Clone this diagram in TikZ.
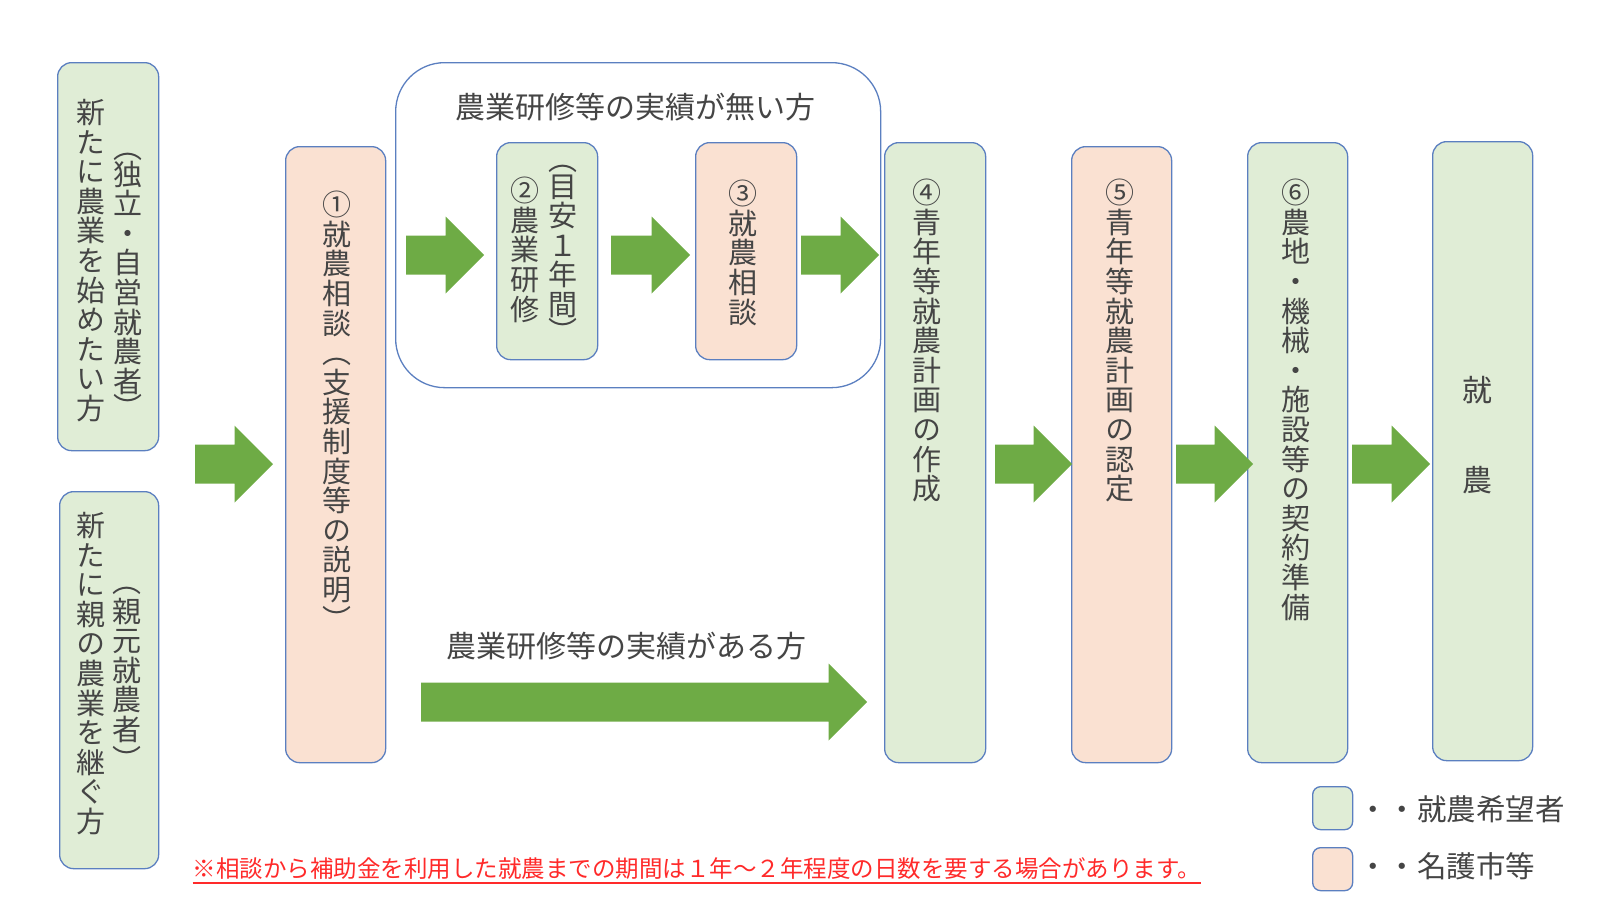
\documentclass[tikz,border=0pt]{standalone}
\usepackage{fontspec}
\setmainfont{Noto Sans CJK JP}
\newfontfamily\vjp{Noto Sans CJK JP}[RawFeature=+vert]
\lineskiplimit=-100pt
\lineskip=0pt
\definecolor{gfill}{HTML}{E0EDD6}
\definecolor{pfill}{HTML}{FAE1D2}
\definecolor{bcol}{HTML}{5B7FC0}
\definecolor{agreen}{HTML}{6EAB45}
\definecolor{tgray}{HTML}{454545}
\definecolor{fred}{HTML}{FF2A2A}
\newcommand\blockarr[3]{%
  \fill[agreen] (#1,#3-19.5) -- (#2-38.5,#3-19.5) -- (#2-38.5,#3-38.5) -- (#2,#3)
    -- (#2-38.5,#3+38.5) -- (#2-38.5,#3+19.5) -- (#1,#3+19.5) -- cycle;}
\tikzset{
  box/.style={draw=bcol, line width=1.3pt, rounded corners=14pt, anchor=north west, inner sep=0pt},
  gbox/.style={box, fill=gfill},
  pbox/.style={box, fill=pfill},
  vtext/.style={font=\vjp\fontsize{29}{29.6}\selectfont, text=tgray, align=center, inner sep=0pt, anchor=north},
  htext/.style={font=\fontsize{30}{36}\selectfont, text=tgray, inner sep=0pt},
  legtext/.style={font=\fontsize{29.5}{36}\selectfont, text=tgray, inner sep=0pt, anchor=west},
}
\begin{document}
\begin{tikzpicture}[x=1pt,y=-1pt]
\useasboundingbox (0,0) rectangle (1600,900);
% boxes
\node[gbox, minimum width=101pt, minimum height=388pt] (boxA) at (57,62) {};
\node[gbox, minimum width=99pt, minimum height=377pt] (boxB) at (59,491) {};
\node[pbox, minimum width=100pt, minimum height=616pt] (box1) at (285,146) {};
\node[box, rounded corners=49pt, minimum width=485pt, minimum height=325pt] (grp) at (395,62) {};
\node[gbox, minimum width=101pt, minimum height=217pt] (box2) at (496,142) {};
\node[pbox, minimum width=101pt, minimum height=217pt] (box3) at (695,142) {};
\node[gbox, minimum width=101pt, minimum height=620pt] (box4) at (884,142) {};
\node[pbox, minimum width=100pt, minimum height=616pt] (box5) at (1071,146) {};
\node[gbox, minimum width=100pt, minimum height=620pt] (box6) at (1247,142) {};
\node[gbox, minimum width=100pt, minimum height=619pt] (box7) at (1432,141) {};
% vertical texts
\node[vtext] (tA1) at (91,99) {新\\た\\に\\農\\業\\を\\始\\め\\た\\い\\方};
\node[vtext] (tA2) at (128,153) {（\\[-3pt]独\\立\\・\\自\\営\\就\\農\\者\\[-3pt]）};
\node[vtext] (tB1) at (91,512) {新\\た\\に\\親\\の\\農\\業\\を\\継\\ぐ\\方};
\node[vtext] (tB2) at (127,587) {（\\親\\元\\就\\農\\者\\）};
\node[vtext] (t1) at (337,191) {①\\就\\農\\相\\談\\（\\支\\援\\制\\度\\等\\の\\説\\明\\）};
\node[vtext] (t2a) at (525,177) {②\\農\\業\\研\\修};
\node[vtext] (t2b) at (563,165) {（\\[-3pt]目\\安\\１\\年\\間\\[-3pt]）};
\node[vtext] (t3) at (743,180) {③\\就\\農\\相\\談};
\node[vtext] (t4) at (927,179) {④\\青\\年\\等\\就\\農\\計\\画\\の\\作\\成};
\node[vtext] (t5) at (1120,179) {⑤\\青\\年\\等\\就\\農\\計\\画\\の\\認\\定};
\node[vtext] (t6) at (1296,179) {⑥\\農\\地\\・\\機\\械\\・\\施\\設\\等\\の\\契\\約\\準\\備};
\node[htext] (t7a) at (1477,390) {就};
\node[htext] (t7b) at (1477,480) {農};
% titles
\node[htext] (title1) at (635,107) {農業研修等の実績が無い方};
\node[htext] (title2) at (626,646) {農業研修等の実績がある方};
% arrows
\blockarr{195}{273}{464}
\blockarr{406}{484}{255}
\blockarr{611}{690}{255}
\blockarr{801}{879}{255}
\blockarr{995}{1072}{464}
\blockarr{1176}{1253}{464}
\blockarr{1352}{1430}{464}
\blockarr{421}{867}{702}
% footnote
\node[font=\fontsize{23.5}{28}\selectfont, text=fred, inner sep=0pt] (foot) at (697,869)
  {※相談から補助金を利用した就農までの期間は１年～２年程度の日数を要する場合があります。};
\draw[fred, line width=1.3pt] ([yshift=-5pt]foot.base west) -- ([yshift=-5pt]foot.base east);
% legend
\node[gbox, rounded corners=8pt, minimum width=40pt, minimum height=43pt] (lg1) at (1312,786) {};
\node[pbox, rounded corners=8pt, minimum width=40pt, minimum height=43pt] (lg2) at (1312,847) {};
\node[legtext] (lt1) at (1358,809) {・・就農希望者};
\node[legtext] (lt2) at (1358,866) {・・名護市等};
\end{tikzpicture}
\end{document}
